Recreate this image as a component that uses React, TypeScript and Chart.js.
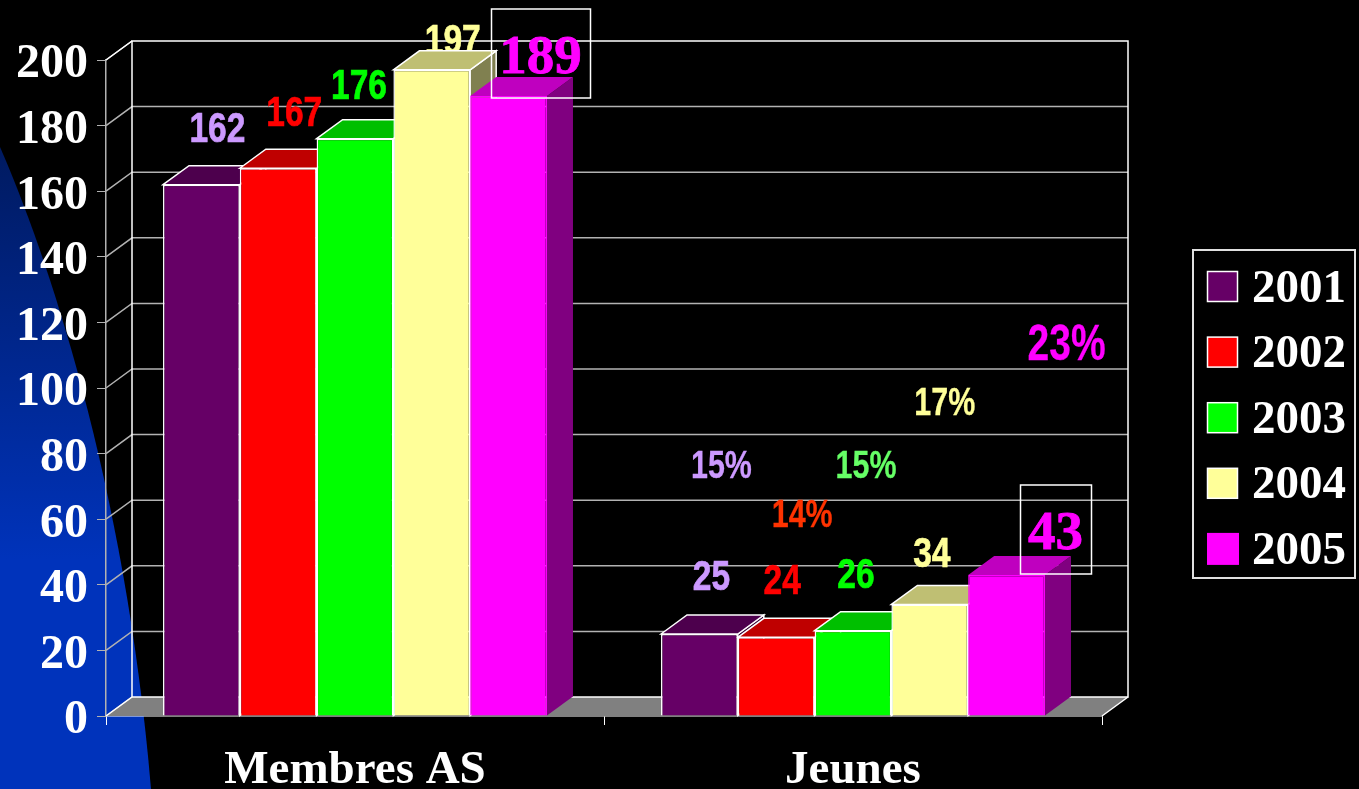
import React, { useEffect, useRef } from "react";
import { Chart, registerables } from "chart.js";

Chart.register(...registerables);

const categories = ["Membres AS", "Jeunes"];
const years = ["2001", "2002", "2003", "2004", "2005"];
const values2001 = [162, 25];
const values2002 = [167, 24];
const values2003 = [176, 26];
const values2004 = [197, 34];
const values2005 = [189, 43];
const seriesValues = [values2001, values2002, values2003, values2004, values2005];
const jeunesShare = ["15%", "14%", "15%", "17%", "23%"];
const tickStep = 20;
const axisMax = 200;

const fills = ["#660066", "#ff0000", "#00ff00", "#ffff99", "#ff00ff"];
const edges = ["#ffffff", "#ffffff", "#ffffff", "#ffffff", "#ff00ff"];
const tops = ["#4d004d", "#bf0000", "#00bf00", "#bfbf73", "#bf00bf"];
const sides = ["#330033", "#800000", "#008000", "#808050", "#800080"];
const valueColors = ["#cc99ff", "#ff0000", "#00ff00", "#ffff99", "#ff00ff"];
const shareColors = ["#cc99ff", "#ff3300", "#66ff66", "#ffff99", "#ff00ff"];

const DX = 26;
const DY = -19;
const SERIF = '"Liberation Serif", "Times New Roman", serif';
const SANS = '"Liberation Sans", Arial, sans-serif';

// label offsets from the top-centre of each bar: [group][series] = [dx, dy]
const valueOffsets = [
  [[16, -57], [16, -57], [4, -55], [21, -31], [32, -41]],
  [[12, -59], [6, -58], [3, -58], [2, -52], [49, -44]],
];
const shareOffsets = [[22, -170], [26, -124], [13, -166], [15, -203], [60, -232]];

function squeezed(ctx: CanvasRenderingContext2D, text: string, x: number, y: number, size: number, color: string, weight: number) {
  ctx.save();
  ctx.translate(x, y + 3);
  ctx.scale(0.78, 1);
  ctx.font = `bold ${size}px ${SANS}`;
  ctx.fillStyle = color;
  ctx.strokeStyle = color;
  ctx.lineWidth = weight;
  ctx.textAlign = "center";
  ctx.textBaseline = "middle";
  ctx.fillText(text, 0, 0);
  ctx.strokeText(text, 0, 0);
  ctx.restore();
}

function poly(ctx: CanvasRenderingContext2D, pts: number[][], fill: string | null, stroke: string | null, w = 1) {
  ctx.beginPath();
  pts.forEach((p, i) => (i ? ctx.lineTo(p[0], p[1]) : ctx.moveTo(p[0], p[1])));
  ctx.closePath();
  if (fill) {
    ctx.fillStyle = fill;
    ctx.fill();
  }
  if (stroke) {
    ctx.strokeStyle = stroke;
    ctx.lineWidth = w;
    ctx.stroke();
  }
}

const sceneryPlugin = {
  id: "scenery",
  beforeDraw(chart: any) {
    const ctx: CanvasRenderingContext2D = chart.ctx;
    ctx.save();
    ctx.fillStyle = "#000000";
    ctx.fillRect(0, 0, chart.width, chart.height);
    const g = ctx.createLinearGradient(0, 147, 0, 560);
    g.addColorStop(0, "#001a60");
    g.addColorStop(1, "#0033bb");
    ctx.fillStyle = g;
    ctx.beginPath();
    ctx.moveTo(0, 147);
    ctx.bezierCurveTo(45, 250, 125, 480, 151, 789);
    ctx.lineTo(0, 789);
    ctx.closePath();
    ctx.fill();
    ctx.restore();
  },
  beforeDatasetsDraw(chart: any) {
    const ctx: CanvasRenderingContext2D = chart.ctx;
    const { left, right, top, bottom } = chart.chartArea;
    const y = chart.scales.y;
    ctx.save();
    // floor
    poly(ctx, [[left, bottom], [left + DX, bottom + DY], [right + DX, bottom + DY], [right, bottom]], "#808080", null);
    // walls and gridlines
    y.ticks.forEach((t: any) => {
      const py = y.getPixelForValue(t.value);
      ctx.strokeStyle = "#b2b2b2";
      ctx.lineWidth = 1.5;
      ctx.beginPath();
      ctx.moveTo(left, py);
      ctx.lineTo(left + DX, py + DY);
      if (t.value > 0 && t.value < axisMax) ctx.lineTo(right + DX, py + DY);
      ctx.stroke();
    });
    ctx.strokeStyle = "#ffffff";
    ctx.lineWidth = 1.5;
    ctx.strokeRect(left + DX, top + DY, right - left, bottom - top);
    ctx.beginPath();
    ctx.moveTo(left, bottom);
    ctx.lineTo(left + DX, bottom + DY);
    ctx.moveTo(right, bottom);
    ctx.lineTo(right + DX, bottom + DY);
    ctx.moveTo(left, top);
    ctx.lineTo(left + DX, top + DY);
    ctx.stroke();

    // labels that sit behind the bars
    ctx.restore();
    ctx.save();
    categories.forEach((_, g) => {
      seriesValues.forEach((vals, s) => {
        const isLast = s === seriesValues.length - 1;
        const bar = chart.getDatasetMeta(s).data[g];
        if (!isLast) {
          squeezed(ctx, String(vals[g]), bar.x + valueOffsets[g][s][0], bar.y + valueOffsets[g][s][1], 43, valueColors[s], 0.7);
        }
        if (g === 1) {
          squeezed(ctx, jeunesShare[s], bar.x + shareOffsets[s][0], bar.y + shareOffsets[s][1], isLast ? 50 : 39, shareColors[s], 0.3);
        }
      });
    });
    // cuboid tops and right-hand faces
    categories.forEach((_, g) => {
      seriesValues.forEach((vals, s) => {
        const bar = chart.getDatasetMeta(s).data[g];
        const l = bar.x - bar.width / 2;
        const r = bar.x + bar.width / 2;
        const t = bar.y;
        const b = bar.base;
        const stroke = edges[s] === "#ffffff" ? "#ffffff" : null;
        poly(ctx, [[r, t], [r + DX, t + DY], [r + DX, b + DY], [r, b]], sides[s], stroke, 1.5);
        poly(ctx, [[l, t], [l + DX, t + DY], [r + DX, t + DY], [r, t]], tops[s], stroke, 1.5);
      });
    });
    ctx.restore();
  },
  afterDatasetsDraw(chart: any) {
    const ctx: CanvasRenderingContext2D = chart.ctx;
    ctx.save();
    // highlighted 2005 values in a frame
    const last = seriesValues.length - 1;
    categories.forEach((_, g) => {
      const bar = chart.getDatasetMeta(last).data[g];
      const cx = bar.x + valueOffsets[g][last][0];
      const cy = bar.y + valueOffsets[g][last][1];
      const text = String(seriesValues[last][g]);
      ctx.font = `bold 55px ${SERIF}`;
      ctx.fillStyle = valueColors[last];
      ctx.strokeStyle = valueColors[last];
      ctx.lineWidth = 0.8;
      ctx.textAlign = "center";
      ctx.textBaseline = "middle";
      ctx.fillText(text, cx, cy + 4);
      ctx.strokeText(text, cx, cy + 4);
      const w = ctx.measureText(text).width + 16;
      ctx.strokeStyle = "#ffffff";
      ctx.lineWidth = 1.5;
      ctx.strokeRect(Math.round(cx - w / 2) + 0.5, Math.round(cy - 46), Math.round(w), 89);
    });
    // legend
    ctx.strokeStyle = "#e0e0e0";
    ctx.lineWidth = 2;
    ctx.strokeRect(1193, 250, 162, 328);
    years.forEach((yr, i) => {
      const ry = 271.5 + i * 65.6;
      ctx.fillStyle = fills[i];
      if (edges[i] === "#ffffff") {
        ctx.fillRect(1207.5, ry, 30, 30);
        ctx.strokeStyle = "#ffffff";
        ctx.lineWidth = 1.5;
        ctx.strokeRect(1207.5, ry, 30, 30);
      } else {
        ctx.fillRect(1207, ry - 1, 32, 32);
      }
      ctx.font = `bold 47px ${SERIF}`;
      ctx.fillStyle = "#ffffff";
      ctx.textAlign = "left";
      ctx.textBaseline = "middle";
      ctx.fillText(yr, 1252, ry + 18);
    });
    ctx.restore();
  },
};

export default function App() {
  const ref = useRef<HTMLCanvasElement | null>(null);
  useEffect(() => {
    document.body.style.background = "#000";
    const chart = new Chart(ref.current as HTMLCanvasElement, {
      type: "bar",
      data: {
        labels: categories,
        datasets: seriesValues.map((v, i) => ({
          label: years[i],
          data: v,
          backgroundColor: fills[i],
          borderColor: edges[i],
          borderWidth: 1.5,
          barPercentage: 1,
          categoryPercentage: 0.771,
        })),
      },
      options: {
        responsive: false,
        animation: false,
        layout: { padding: { left: 0, top: 60, right: 257, bottom: 0 } },
        plugins: { legend: { display: false }, tooltip: { enabled: false }, title: { display: false } },
        scales: {
          x: {
            afterFit: (s: any) => {
              s.height = 73;
            },
            grid: { drawOnChartArea: false, drawTicks: true, tickLength: 9, color: "#ffffff" },
            border: { color: "#ffffff", width: 1.5 },
            ticks: { color: "#ffffff", font: { family: SERIF, size: 47, weight: "bold" }, padding: 18, maxRotation: 0 },
          },
          y: {
            min: 0,
            max: axisMax,
            afterFit: (s: any) => {
              s.width = 106;
            },
            grid: { drawOnChartArea: false, drawTicks: true, tickLength: 9, color: "#b2b2b2" },
            border: { color: "#b2b2b2", width: 1.5 },
            ticks: { stepSize: tickStep, color: "#ffffff", font: { family: SERIF, size: 48, weight: "bold" }, padding: 9, labelOffset: 5 },
          },
        },
      },
      plugins: [sceneryPlugin],
    } as any);
    return () => chart.destroy();
  }, []);
  return (
    <div style={{ position: "absolute", left: 0, top: 0, width: 1359, height: 789, overflow: "hidden", background: "#000" }}>
      <canvas ref={ref} width={1359} height={789} style={{ display: "block" }} />
    </div>
  );
}
